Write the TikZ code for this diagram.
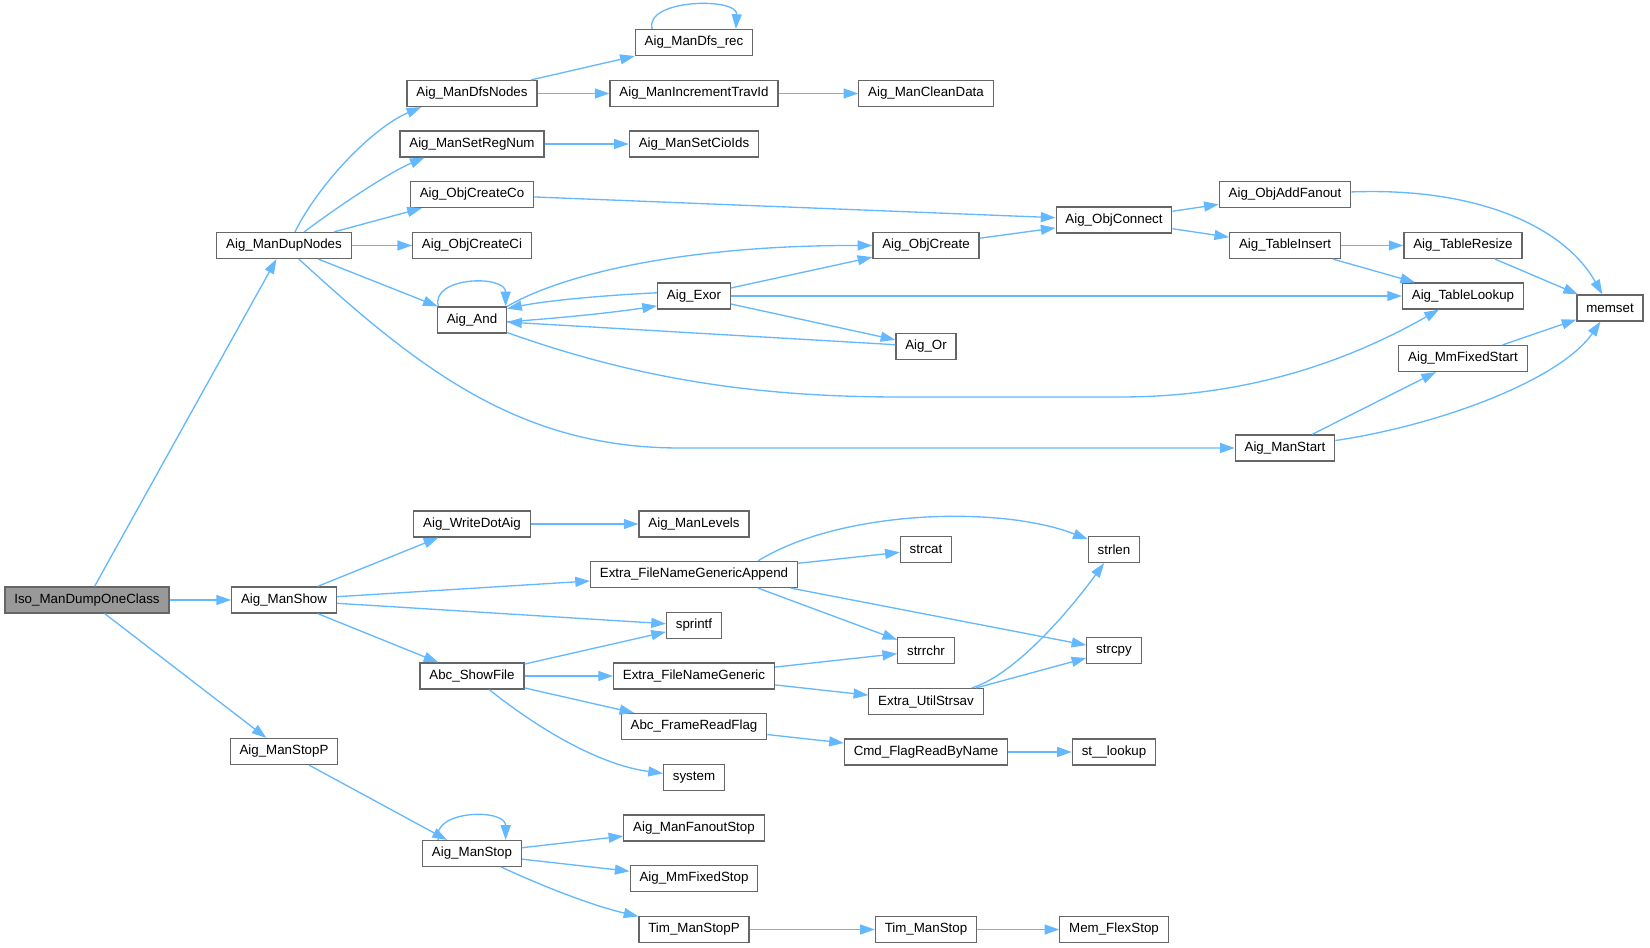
\documentclass[tikz,border=0pt]{standalone}
\usepackage{fontspec}
\setmainfont{Liberation Sans}
\usetikzlibrary{arrows.meta}
\definecolor{edgeblue}{HTML}{63B8FF}
\definecolor{boxgray}{HTML}{666666}
\definecolor{rootgray}{HTML}{999999}
\tikzset{
  fn/.style={draw=boxgray, fill=white, line width=0.9pt, minimum height=19.5pt,
    inner xsep=7pt, inner ysep=0pt, font=\fontsize{10}{12}\selectfont},
  root/.style={fn, fill=rootgray},
  call/.style={color=edgeblue, line width=1pt, -{Triangle[length=11pt,width=7.5pt]}}
}
\begin{document}
\begin{tikzpicture}[x=0.75pt,y=-0.75pt]
  \useasboundingbox (0,0) rectangle (1650,948);
  \node[root] (iso) at (87,600) {Iso\_ManDumpOneClass};
  \node[fn] (dupnodes) at (284,245.5) {Aig\_ManDupNodes};
  \node[fn] (manshow) at (284,600) {Aig\_ManShow};
  \node[fn] (stopp) at (284,751.5) {Aig\_ManStopP};
  \node[fn] (dfsnodes) at (472,93.5) {Aig\_ManDfsNodes};
  \node[fn] (setregnum) at (472,144) {Aig\_ManSetRegNum};
  \node[fn] (createco) at (472,194.5) {Aig\_ObjCreateCo};
  \node[fn] (createci) at (472,245.5) {Aig\_ObjCreateCi};
  \node[fn] (aigand) at (472,320) {Aig\_And};
  \node[fn] (writedot) at (472,524) {Aig\_WriteDotAig};
  \node[fn] (showfile) at (472,676) {Abc\_ShowFile};
  \node[fn] (manstop) at (472,853.5) {Aig\_ManStop};
  \node[fn] (dfsrec) at (694,42.5) {Aig\_ManDfs\_rec};
  \node[fn] (travid) at (694,93.5) {Aig\_ManIncrementTravId};
  \node[fn] (cioids) at (694,144) {Aig\_ManSetCioIds};
  \node[fn] (exor) at (694,296) {Aig\_Exor};
  \node[fn] (levels) at (694,524) {Aig\_ManLevels};
  \node[fn] (append) at (694,574.5) {Extra\_FileNameGenericAppend};
  \node[fn] (sprintf) at (694,625.5) {sprintf};
  \node[fn] (generic) at (694,676) {Extra\_FileNameGeneric};
  \node[fn] (readflag) at (694,726.5) {Abc\_FrameReadFlag};
  \node[fn] (system) at (694,777.5) {system};
  \node[fn] (fanoutstop) at (694,828) {Aig\_ManFanoutStop};
  \node[fn] (fixedstop) at (694,878.5) {Aig\_MmFixedStop};
  \node[fn] (timstopp) at (694,929.5) {Tim\_ManStopP};
  \node[fn] (cleandata) at (926,93.5) {Aig\_ManCleanData};
  \node[fn] (objcreate) at (926,245.5) {Aig\_ObjCreate};
  \node[fn] (aigor) at (926,346.5) {Aig\_Or};
  \node[fn] (strcat) at (926,549.5) {strcat};
  \node[fn] (strrchr) at (926,650.5) {strrchr};
  \node[fn] (strsav) at (926,701.5) {Extra\_UtilStrsav};
  \node[fn] (flagread) at (926,752) {Cmd\_FlagReadByName};
  \node[fn] (timstop) at (926,929.5) {Tim\_ManStop};
  \node[fn] (connect) at (1114,220) {Aig\_ObjConnect};
  \node[fn] (strlen) at (1114,549.5) {strlen};
  \node[fn] (strcpy) at (1114,650.5) {strcpy};
  \node[fn] (stlookup) at (1114,752) {st\_\_lookup};
  \node[fn] (memstop) at (1114,929.5) {Mem\_FlexStop};
  \node[fn] (addfanout) at (1285,194.5) {Aig\_ObjAddFanout};
  \node[fn] (tinsert) at (1285,245.5) {Aig\_TableInsert};
  \node[fn] (manstart) at (1285,448) {Aig\_ManStart};
  \node[fn] (tresize) at (1463,245.5) {Aig\_TableResize};
  \node[fn] (tlookup) at (1463,296) {Aig\_TableLookup};
  \node[fn] (fixedstart) at (1463,358.5) {Aig\_MmFixedStart};
  \node[fn] (memset) at (1610,308) {memset};

  \path[call]
  (iso) edge (dupnodes) edge (manshow) edge (stopp)
  (dupnodes) edge (createco) edge (createci) edge (aigand)
  (dfsnodes) edge (dfsrec) edge (travid)
  (travid) edge (cleandata)
  (setregnum) edge (cioids)
  (createco) edge (connect)
  (exor) edge (objcreate) edge (tlookup) edge (aigor)
  (aigor) edge (aigand)
  (objcreate) edge (connect)
  (connect) edge (addfanout) edge (tinsert)
  (tinsert) edge (tresize) edge (tlookup)
  (tresize) edge (memset)
  (fixedstart) edge (memset)
  (manstart) edge (fixedstart)
  (manshow) edge (writedot) edge (append) edge (sprintf) edge (showfile)
  (writedot) edge (levels)
  (append) edge (strcat)
  (showfile) edge (sprintf) edge (generic) edge (readflag)
  (generic) edge (strrchr) edge (strsav)
  (readflag) edge (flagread)
  (flagread) edge (stlookup)
  (strsav) edge (strcpy)
  (stopp) edge (manstop)
  (manstop) edge (fanoutstop) edge (fixedstop)
  (timstopp) edge (timstop)
  (timstop) edge (memstop);

  \draw[call] (append.-12) -- (strrchr);
  \draw[call] (append.-8) -- (strcpy);
  \draw[call] (dupnodes.51) .. controls (318,185) and (372,128) .. (dfsnodes.-165);
  \draw[call] (dupnodes.34) .. controls (340,205) and (390,172) .. (setregnum.-164);
  \draw[call] (dupnodes) .. controls (420,370) and (520,448) .. (680,448) -- (manstart);
  \draw[call] (aigand.158) .. controls +(-8,-30) and +(0,-32) .. (aigand.22);
  \draw[call] (aigand.north east) .. controls (570,270) and (700,245) .. (objcreate.west);
  \draw[call] (aigand) .. controls (640,380) and (760,397) .. (900,397) -- (1120,397)
    .. controls (1250,397) and (1350,360) .. (tlookup);
  \draw[call] (aigand.-3) .. controls (560,318) and (610,313) .. (exor.-165);
  \draw[call] (exor.175) .. controls (610,295) and (550,300) .. (aigand.18);
  \draw[call] (dfsrec.162) .. controls +(-8,-30) and +(2,-32) .. (dfsrec.18);
  \draw[call] (addfanout) .. controls (1480,187) and (1565,228) .. (memset);
  \draw[call] (manstart) .. controls (1440,425) and (1560,380) .. (memset);
  \draw[call] (append.12) .. controls (840,510) and (1000,505) .. (strlen);
  \draw[call] (strsav) .. controls (1015,675) and (1070,610) .. (strlen);
  \draw[call] (showfile) .. controls (540,730) and (600,765) .. (system);
  \draw[call] (manstop.158) .. controls +(-8,-30) and +(0,-32) .. (manstop.22);
  \draw[call] (manstop) .. controls (540,885) and (590,905) .. (timstopp);
\end{tikzpicture}
\end{document}
